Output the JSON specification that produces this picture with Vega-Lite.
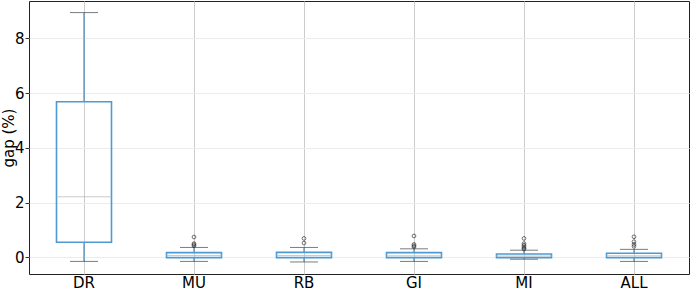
{
  "$schema": "https://vega.github.io/schema/vega-lite/v6.json",
  "width": 660,
  "height": 273,
  "autosize": "none",
  "padding": {"left": 29, "top": 1, "right": 2, "bottom": 16},
  "background": "white",
  "config": {
    "view": {"stroke": "#222222", "strokeWidth": 1},
    "font": "DejaVu Sans",
    "axis": {
      "labelFont": "DejaVu Sans",
      "titleFont": "DejaVu Sans",
      "labelFontSize": 15,
      "titleFontSize": 15,
      "titleFontWeight": "normal",
      "labelColor": "#000000",
      "titleColor": "#000000",
      "domain": false,
      "tickColor": "#333333"
    }
  },
  "datasets": {
    "stats": [
      {"group": "DR", "lower": -0.15, "q1": 0.55, "median": 2.21, "q3": 5.68, "upper": 8.94},
      {"group": "MU", "lower": -0.15, "q1": -0.01, "median": 0.07, "q3": 0.17, "upper": 0.36},
      {"group": "RB", "lower": -0.17, "q1": -0.01, "median": 0.07, "q3": 0.18, "upper": 0.36},
      {"group": "GI", "lower": -0.15, "q1": -0.01, "median": 0.06, "q3": 0.17, "upper": 0.31},
      {"group": "MI", "lower": -0.07, "q1": -0.01, "median": 0.05, "q3": 0.12, "upper": 0.26},
      {"group": "ALL", "lower": -0.15, "q1": -0.01, "median": 0.06, "q3": 0.15, "upper": 0.29}
    ],
    "outliers": [
      {"group": "MU", "gap": 0.74}, {"group": "MU", "gap": 0.5}, {"group": "MU", "gap": 0.46}, {"group": "MU", "gap": 0.42},
      {"group": "RB", "gap": 0.69}, {"group": "RB", "gap": 0.52},
      {"group": "GI", "gap": 0.78}, {"group": "GI", "gap": 0.47}, {"group": "GI", "gap": 0.42}, {"group": "GI", "gap": 0.38},
      {"group": "MI", "gap": 0.69}, {"group": "MI", "gap": 0.5}, {"group": "MI", "gap": 0.44}, {"group": "MI", "gap": 0.38}, {"group": "MI", "gap": 0.33}, {"group": "MI", "gap": 0.3},
      {"group": "ALL", "gap": 0.75}, {"group": "ALL", "gap": 0.57}, {"group": "ALL", "gap": 0.47}, {"group": "ALL", "gap": 0.4}
    ]
  },
  "encoding": {
    "x": {
      "field": "group",
      "type": "nominal",
      "sort": ["DR", "MU", "RB", "GI", "MI", "ALL"],
      "scale": {"type": "band", "paddingInner": 0, "paddingOuter": 0},
      "axis": {"title": null, "labelAngle": 0, "ticks": false, "tickSize": 0, "labelPadding": 1, "grid": true, "gridColor": "#cccccc", "bandPosition": 0.5}
    }
  },
  "layer": [
    {
      "data": {"name": "stats"},
      "mark": {"type": "rule", "color": "#1f77b4", "strokeWidth": 1},
      "encoding": {
        "y": {
          "field": "lower",
          "type": "quantitative",
          "scale": {"domain": [-0.61, 9.363], "nice": false, "zero": false},
          "axis": {"title": "gap (%)", "values": [0, 2, 4, 6, 8], "grid": true, "gridColor": "#ececec", "tickSize": 4, "labelPadding": 1, "titlePadding": -2}
        },
        "y2": {"field": "q1"}
      }
    },
    {
      "data": {"name": "stats"},
      "mark": {"type": "rule", "color": "#1f77b4", "strokeWidth": 1},
      "encoding": {
        "y": {"field": "q3", "type": "quantitative"},
        "y2": {"field": "upper"}
      }
    },
    {
      "data": {"name": "stats"},
      "mark": {"type": "bar", "width": {"band": 0.5}, "fill": null, "fillOpacity": 0, "stroke": "#4f9ad0", "strokeWidth": 1.6},
      "encoding": {
        "y": {"field": "q1", "type": "quantitative"},
        "y2": {"field": "q3"}
      }
    },
    {
      "data": {"name": "stats"},
      "mark": {"type": "tick", "orient": "horizontal", "size": 55, "thickness": 1, "color": "#b5b5b5"},
      "encoding": {
        "y": {"field": "median", "type": "quantitative"}
      }
    },
    {
      "data": {"name": "stats"},
      "mark": {"type": "tick", "orient": "horizontal", "size": 28, "thickness": 1, "color": "#444444"},
      "encoding": {
        "y": {"field": "upper", "type": "quantitative"}
      }
    },
    {
      "data": {"name": "stats"},
      "mark": {"type": "tick", "orient": "horizontal", "size": 28, "thickness": 1, "color": "#444444"},
      "encoding": {
        "y": {"field": "lower", "type": "quantitative"}
      }
    },
    {
      "data": {"name": "outliers"},
      "mark": {"type": "point", "shape": "circle", "filled": false, "size": 14, "stroke": "#333333", "strokeWidth": 1},
      "encoding": {
        "y": {"field": "gap", "type": "quantitative"}
      }
    }
  ]
}
